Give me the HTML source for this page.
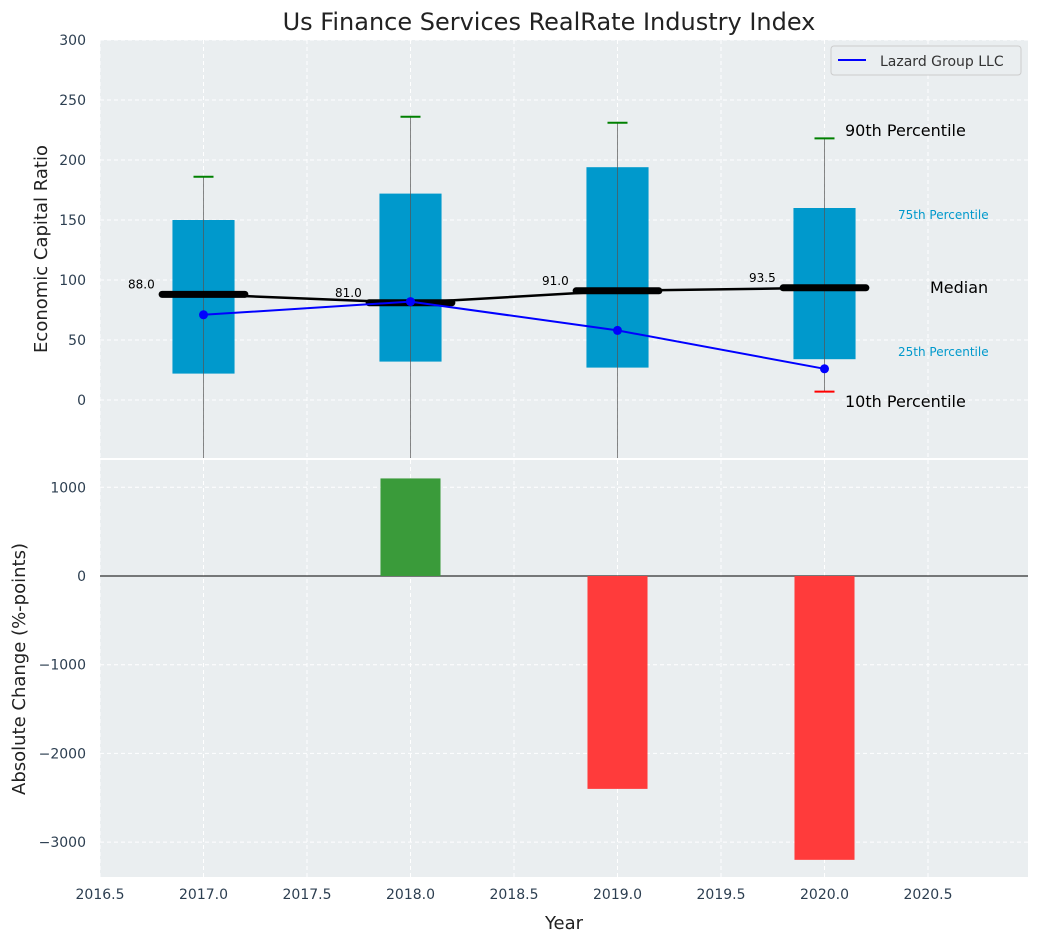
<!DOCTYPE html>
<html><head><meta charset="utf-8"><style>
body{margin:0;background:#fff;font-family:"DejaVu Sans","Liberation Sans",sans-serif;}
svg text{font-family:"DejaVu Sans","Liberation Sans",sans-serif;}
</style></head><body>
<svg id="c" width="1039" height="942" xmlns="http://www.w3.org/2000/svg"></svg>
<script>
const years=[2017,2018,2019,2020];
const q1=[22,32,27,34];
const q3=[150,172,194,160];
const p90=[186,236,231,218];
const p10=[-60,-60,-60,7];
const medians=[88,81,91,93.5];
const lazard=[71,82,58,26];
const changes=[0,1100,-2400,-3200];
const xTicks=[2016.5,2017,2017.5,2018,2018.5,2019,2019.5,2020,2020.5];
const yTopTicks=[0,50,100,150,200,250,300];
const yBotTicks=[1000,0,-1000,-2000,-3000];

const NS="http://www.w3.org/2000/svg";
const svg=document.getElementById('c');
const L=100,R=1028,T1=40,B1=458,T2=460,B2=877;
const x=v=>L+(v-2016.5)*207;
const y1=v=>400-v*1.2;
const y2=v=>576-v*0.0887;
function el(tag,a,txt,p){const e=document.createElementNS(NS,tag);for(const k in a)e.setAttribute(k,a[k]);if(txt!==undefined)e.textContent=txt;(p||svg).appendChild(e);return e;}

// panels
let r=el('rect',{x:L,y:T1,width:R-L,height:B1-T1,fill:'#eaeef0'});

r=el('rect',{x:L,y:T2,width:R-L,height:B2-T2,fill:'#eaeef0'});

const cp1=el('clipPath',{id:'cp1'});el('rect',{x:L,y:T1,width:R-L,height:B1-T1},undefined,cp1);
const cp2=el('clipPath',{id:'cp2'});el('rect',{x:L,y:T2,width:R-L,height:B2-T2},undefined,cp2);
const g1=el('g',{'clip-path':'url(#cp1)'});
const g2=el('g',{'clip-path':'url(#cp2)'});

// grids
xTicks.forEach(t=>{
 el('line',{x1:x(t),x2:x(t),y1:T1,y2:B1,stroke:'#fff','stroke-dasharray':'4,3','stroke-width':1},undefined,g1);
 el('line',{x1:x(t),x2:x(t),y1:T2,y2:B2,stroke:'#fff','stroke-dasharray':'4,3','stroke-width':1},undefined,g2);
 const tl=el('text',{x:x(t),y:B2+22,'text-anchor':'middle','font-size':14,fill:'#2c3e50'},t.toFixed(1));
 
});
yTopTicks.forEach(t=>{
 el('line',{x1:L,x2:R,y1:y1(t),y2:y1(t),stroke:'#fff','stroke-dasharray':'4,3'},undefined,g1);
 const tl=el('text',{x:L-14,y:y1(t)+5,'text-anchor':'end','font-size':14,fill:'#2c3e50'},String(t));
 
});
yBotTicks.forEach(t=>{
 el('line',{x1:L,x2:R,y1:y2(t),y2:y2(t),stroke:'#fff','stroke-dasharray':'4,3'},undefined,g2);
 const tl=el('text',{x:L-14,y:y2(t)+5,'text-anchor':'end','font-size':14,fill:'#2c3e50'},String(t).replace('-','\u2212'));
 
});

// boxes
years.forEach((yr,i)=>{
 const b=el('rect',{x:x(yr-0.15),y:y1(q3[i]),width:x(yr+0.15)-x(yr-0.15),height:y1(q1[i])-y1(q3[i]),fill:'#0099cc'},undefined,g1);
 
 const w=el('line',{x1:x(yr),x2:x(yr),y1:y1(p90[i]),y2:y1(p10[i]),stroke:'#555','stroke-width':1,opacity:0.7},undefined,g1);
 
 el('line',{x1:x(yr)-10,x2:x(yr)+10,y1:y1(p90[i]),y2:y1(p90[i]),stroke:'green','stroke-width':2},undefined,g1);
 if(p10[i]>-48) el('line',{x1:x(yr)-10,x2:x(yr)+10,y1:y1(p10[i]),y2:y1(p10[i]),stroke:'red','stroke-width':2},undefined,g1);
});
// median connecting line
let pts=years.map((yr,i)=>x(yr)+','+y1(medians[i])).join(' ');
let ml=el('polyline',{points:pts,fill:'none',stroke:'#000','stroke-width':2.5},undefined,g1);

years.forEach((yr,i)=>{
 const m=el('line',{x1:x(yr-0.2),x2:x(yr+0.2),y1:y1(medians[i]),y2:y1(medians[i]),stroke:'#000','stroke-width':7,'stroke-linecap':'round'},undefined,g1);
 
 const t=el('text',{x:x(yr-0.3),y:y1(medians[i])-6,'text-anchor':'middle','font-size':12,fill:'#000'},medians[i].toFixed(1));
 
});
// lazard
pts=years.map((yr,i)=>x(yr)+','+y1(lazard[i])).join(' ');
let ll=el('polyline',{points:pts,fill:'none',stroke:'blue','stroke-width':2},undefined,g1);

years.forEach((yr,i)=>{const c=el('circle',{cx:x(yr),cy:y1(lazard[i]),r:4.5,fill:'blue'},undefined,g1);
 });

// annotations
const ann=[['90th Percentile',845,136,16,'#000'],['75th Percentile',898,219,12,'#0099cc'],['Median',930,293,16,'#000'],['25th Percentile',898,356,12,'#0099cc'],['10th Percentile',845,407,16,'#000']];
ann.forEach(a=>{const t=el('text',{x:a[1],y:a[2],'font-size':a[3],fill:a[4]},a[0]);
 });

// legend
const lg=el('g',{});
el('rect',{x:831,y:46,width:190,height:29,rx:3,fill:'#eaeef0',stroke:'#ccc'},undefined,lg);
el('line',{x1:838,x2:866,y1:60,y2:60,stroke:'blue','stroke-width':2},undefined,lg);
el('text',{x:880,y:66,'font-size':14,fill:'#333'},'Lazard Group LLC',lg);

// bars
el('line',{x1:L,x2:R,y1:y2(0),y2:y2(0),stroke:'#000','stroke-width':1},undefined,g2);
years.forEach((yr,i)=>{
 if(!changes[i])return;
 const v=changes[i];
 const b=el('rect',{x:x(yr-0.145),y:Math.min(y2(0),y2(v)),width:x(yr+0.145)-x(yr-0.145),height:Math.abs(y2(v)-y2(0)),fill:v>0?'#3a9b3a':'#ff3b3b'},undefined,g2);
 
});

// titles
let t=el('text',{x:549,y:30,'text-anchor':'middle','font-size':24,fill:'#222'},'Us Finance Services RealRate Industry Index');

t=el('text',{x:0,y:0,'text-anchor':'middle','font-size':18,fill:'#222',transform:'translate(47,249) rotate(-90)'},'Economic Capital Ratio');

t=el('text',{x:0,y:0,'text-anchor':'middle','font-size':18,fill:'#222',transform:'translate(25,669) rotate(-90)'},'Absolute Change (%-points)');

t=el('text',{x:564,y:929,'text-anchor':'middle','font-size':18,fill:'#222'},'Year');

</script>
</body></html>
